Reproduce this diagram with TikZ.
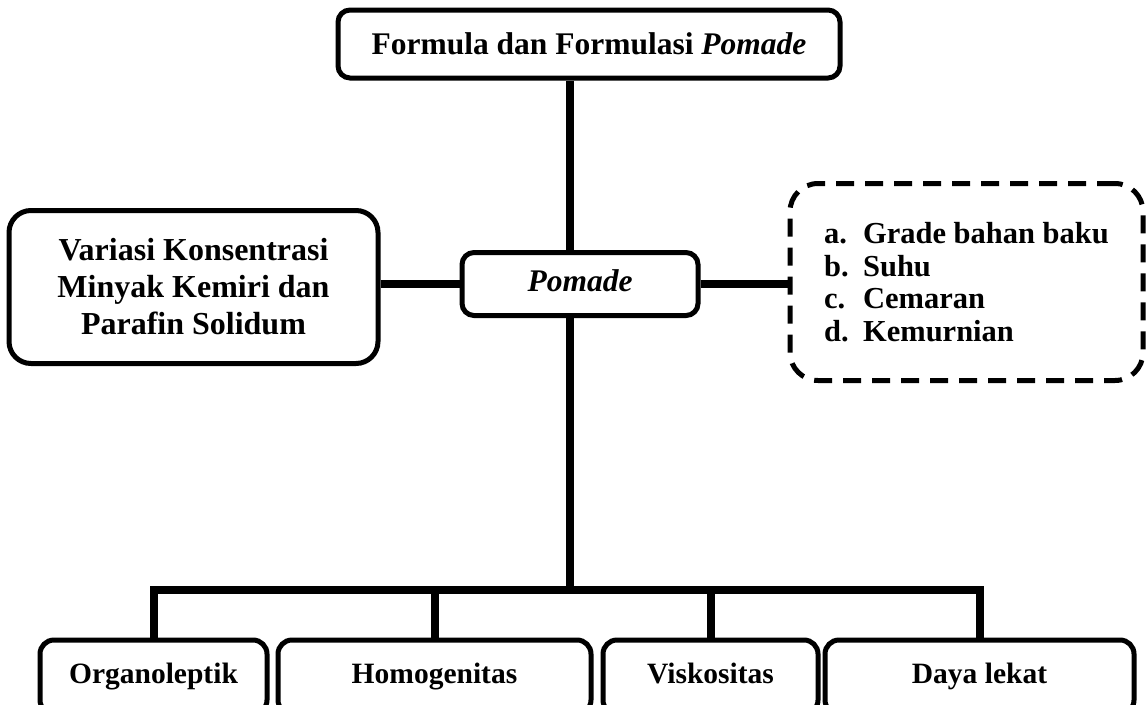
\documentclass[tikz,border=0pt]{standalone}
\usepackage{fontspec}
\setmainfont{Liberation Serif}
\begin{document}
\begin{tikzpicture}[x=1pt,y=-1pt,
  box/.style={draw, line width=5pt, rounded corners=12pt, inner sep=0pt, align=center, fill=white},
  conn/.style={line width=8pt},
  big/.style={font=\fontsize{31.5}{37}\selectfont\bfseries},
  small/.style={font=\fontsize{29.5}{34}\selectfont\bfseries, text height=20pt, text depth=7pt}
]
\clip (0,0) rectangle (1147,704);
\fill[white] (0,0) rectangle (1147,704);
% nodes
\node[box, big, minimum width=502pt, minimum height=68pt] (top) at (589,44) {Formula dan Formulasi \textit{Pomade}};
\node[box, big, text height=21pt, text depth=7pt, minimum width=236pt, minimum height=63pt] (pom) at (580,284) {\textit{Pomade}};
\node[box, font=\fontsize{32}{37}\selectfont\bfseries, rounded corners=22pt, minimum width=369pt, minimum height=153pt] (var) at (193.5,287) {Variasi Konsentrasi\\Minyak Kemiri dan\\Parafin Solidum};
\node[box, dash pattern=on 18pt off 11pt, rounded corners=28pt, align=left,
      font=\fontsize{30.5}{32.5}\selectfont\bfseries,
      minimum width=353pt, minimum height=197pt] (fac) at (966.5,282)
  {\makebox[39pt][l]{a.}Grade bahan baku\\\makebox[39pt][l]{b.}Suhu\\\makebox[39pt][l]{c.}Cemaran\\\makebox[39pt][l]{d.}Kemurnian};
\node[box, small, rounded corners=14pt, minimum width=227pt, minimum height=74pt] (b1) at (153.5,677) {Organoleptik};
\node[box, small, rounded corners=14pt, minimum width=313pt, minimum height=74pt] (b2) at (434.5,677) {Homogenitas};
\node[box, small, rounded corners=14pt, minimum width=215pt, minimum height=74pt] (b3) at (710.5,677) {Viskositas};
\node[box, small, rounded corners=14pt, minimum width=309pt, minimum height=74pt] (b4) at (979.5,677) {Daya lekat};
% connectors
\coordinate (hub) at (570,590);
\draw[conn] (hub |- top.south) -- (hub |- pom.north);
\draw[conn] (hub |- pom.south) -- (hub);
\draw[conn] (var.east |- pom.west) -- (pom.west);
\draw[conn] (pom.east) -- (pom.east -| fac.west);
\draw[conn, line join=miter] (b1.north) |- (hub -| b4.north) -- (b4.north);
\draw[conn] (b2.north) -- (b2.north |- hub);
\draw[conn] (b3.north) -- (b3.north |- hub);
\end{tikzpicture}
\end{document}
